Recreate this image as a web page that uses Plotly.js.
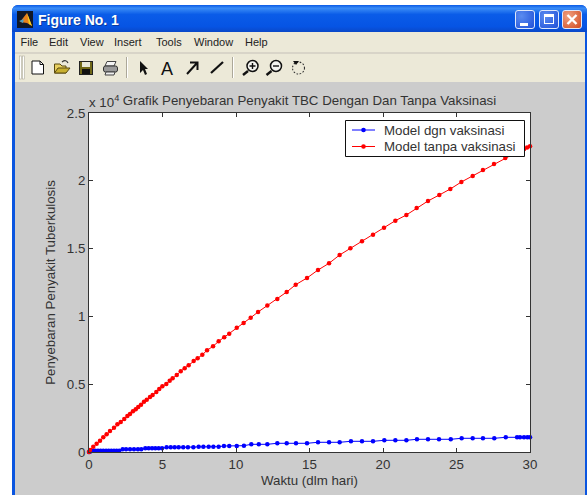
<!DOCTYPE html>
<html>
<head>
<meta charset="utf-8">
<script src="https://cdn.plot.ly/plotly-3.0.1.min.js"></script>
<style>
html,body{margin:0;padding:0;background:#fff;overflow:hidden}
#win{position:absolute;left:12px;top:5px;width:575px;height:490px;background:#0a55e0;border-radius:6px 6px 0 0;overflow:hidden}
#bar{position:absolute;left:0;top:0;width:575px;height:27px;background:linear-gradient(#0a5ae6 0%,#3a8cf6 12%,#0a5ce8 35%,#0654e4 80%,#0a48c8 100%)}
.abs{position:absolute}
.t{position:absolute;white-space:nowrap;font-family:"Liberation Sans",Arial,sans-serif}
.m{font-size:11px;color:#222;top:36px}
.b{position:absolute;top:10px;width:20px;height:19px;border:1px solid #dfe8fb;border-radius:3px;box-sizing:border-box;background:radial-gradient(circle at 30% 30%,#5b8cf0,#2050d8)}
#chart{position:absolute;left:0;top:0;width:587px;height:495px}
</style>
</head>
<body>
<div id="win"><div id="bar"></div></div>
<div class="abs" style="left:15px;top:32px;width:570px;height:20px;background:#ece9d8"></div>
<div class="abs" style="left:15px;top:52px;width:570px;height:2px;background:#d8d4c8"></div>
<div class="abs" style="left:15px;top:54px;width:570px;height:28px;background:#ece9d8"></div>
<div class="abs" style="left:15px;top:82px;width:570px;height:413px;background:#cccccc"></div>

<div class="t" style="left:38px;top:12px;font-size:14px;font-weight:bold;color:#fff;text-shadow:1px 1px 0 #0a3aa0">Figure No. 1</div>
<div class="t m" style="left:20.5px">File</div>
<div class="t m" style="left:49px">Edit</div>
<div class="t m" style="left:80px">View</div>
<div class="t m" style="left:114px">Insert</div>
<div class="t m" style="left:156px">Tools</div>
<div class="t m" style="left:194px">Window</div>
<div class="t m" style="left:245px">Help</div>

<div class="b" style="left:515px"><div class="abs" style="left:4px;top:12px;width:8px;height:3px;background:#fff"></div></div>
<div class="b" style="left:539px"><div class="abs" style="left:4px;top:3px;width:10px;height:10px;border:1px solid #fff;border-top-width:3px;box-sizing:border-box"></div></div>
<div class="b" style="left:562px;background:radial-gradient(circle at 30% 30%,#f0a080,#d04a20)"><svg width="18" height="17" style="position:absolute;left:0;top:0"><path d="M4.5 4 L13.5 13 M13.5 4 L4.5 13" stroke="#fff" stroke-width="2.4"/></svg></div>

<svg class="abs" style="left:0;top:0" width="587" height="90">
  <rect x="17" y="11" width="16" height="17" fill="#101828"/>
  <path d="M20 22 L27 13 L32 26 L27 23 Z" fill="#e8801a"/><path d="M27 13 L32 26 L29 24 Z" fill="#f4d020"/><path d="M19 21 L24 19 L23 23 Z" fill="#50a0c0"/>
  <rect x="19.5" y="56" width="2" height="23" fill="#fff" stroke="#b0ac9c" stroke-width=".6"/><rect x="22.5" y="56" width="2" height="23" fill="#fff" stroke="#b0ac9c" stroke-width=".6"/>
  <path d="M32 61 H40 L43.5 64.5 V74 H32 Z" fill="#fff" stroke="#111" stroke-width="1"/><path d="M40 61 V64.5 H43.5" fill="none" stroke="#111"/>
  <path d="M54.5 73 V64 H60 L62 66 H66 V73 Z" fill="#e8d060" stroke="#5a4a10"/><path d="M54.5 73 L58 68 H70 L66 73 Z" fill="#c8b030" stroke="#5a4a10"/><path d="M62 62 Q66 59 68 63" fill="none" stroke="#333" stroke-width="1.2"/>
  <rect x="79.5" y="61.5" width="13" height="13" fill="#706818" stroke="#222"/><rect x="82" y="62" width="8" height="5" fill="#e8e8d8"/><rect x="82" y="69" width="8" height="5" fill="#111"/>
  <path d="M107 61.5 H116 L114 66 H105 Z" fill="#f4f4f4" stroke="#444"/><rect x="103.5" y="66" width="14" height="6" rx="2" fill="#9a9a9a" stroke="#333"/><path d="M106 72 H115 L114 75 H105 Z" fill="#eee" stroke="#444"/>
  <rect x="126" y="57" width="1" height="21" fill="#aca899"/><rect x="127" y="57" width="1" height="21" fill="#fff"/>
  <path d="M140 61 L140 73 L143 70 L145 75 L147 74 L145 69 L148 69 Z" fill="#111"/>
  <text x="167" y="74.5" text-anchor="middle" font-family="Liberation Sans, Arial, sans-serif" font-size="18" fill="#111">A</text>
  <path d="M187 74 L197 63 M190 62.5 H197.5 V70" fill="none" stroke="#111" stroke-width="2"/>
  <path d="M211 73 L223 62" stroke="#111" stroke-width="2.2"/>
  <rect x="232" y="57" width="1" height="21" fill="#aca899"/><rect x="233" y="57" width="1" height="21" fill="#fff"/>
  <circle cx="252.5" cy="66" r="5.5" fill="#f4f4f0" stroke="#111" stroke-width="1.5"/><path d="M249.5 66 H255.5 M252.5 63 V69" stroke="#111" stroke-width="1.4"/><path d="M248 71 L243 75" stroke="#111" stroke-width="2.4"/>
  <circle cx="276" cy="66" r="5.5" fill="#f4f4f0" stroke="#111" stroke-width="1.5"/><path d="M273 66 H279" stroke="#111" stroke-width="1.4"/><path d="M271.5 71 L266.5 75" stroke="#111" stroke-width="2.4"/>
  <circle cx="298.5" cy="68" r="6" fill="none" stroke="#333" stroke-width="1.1" stroke-dasharray="1.6 1.6"/><path d="M293 61 L299 61 L296 65 Z" fill="#111"/>
</svg>

<div id="chart"></div>
<script>
var tTanpa = [0,0.07,0.29,0.52,0.75,0.97,1.20,1.43,1.70,1.93,2.16,2.40,2.61,2.79,2.99,3.18,3.35,3.54,3.74,3.93,4.15,4.33,4.58,4.78,4.99,5.26,5.49,5.69,5.97,6.24,6.51,6.78,7.12,7.39,7.71,8.03,8.44,8.82,9.20,9.54,10.05,10.52,11.0,11.5,12.13,12.81,13.45,14.06,14.83,15.58,16.33,17.05,17.78,18.57,19.32,20.07,20.84,21.59,22.29,23.06,23.83,24.58,25.33,26.10,26.80,27.55,28.32,29.08,29.32,29.6,29.8,30];
var yTanpa = [0,148,391,612,833,1084,1305,1549,1792,2043,2213,2434,2655,2803,3002,3149,3319,3488,3710,3857,4056,4204,4425,4646,4845,5015,5258,5435,5679,5952,6173,6394,6711,6910,7176,7500,7795,8164,8459,8725,9167,9514,9905,10325,10804,11284,11800,12338,12833,13423,13917,14529,15023,15539,16026,16542,17059,17479,17995,18511,18954,19396,19913,20355,20798,21240,21683,22125,22236,22346,22457,22545];
var tDgn = [0,0.07,0.25,0.43,0.61,0.79,0.97,1.16,1.34,1.52,1.70,1.88,2.06,2.29,2.52,2.79,3.06,3.33,3.56,3.83,4.06,4.29,4.51,4.74,4.97,5.28,5.56,5.83,6.10,6.41,6.73,7.10,7.46,7.78,8.14,8.46,8.82,9.18,9.54,10.05,10.54,11.04,11.55,12.13,12.81,13.45,14.08,14.83,15.58,16.33,17.05,17.82,18.57,19.32,20.09,20.84,21.59,22.31,23.06,23.81,24.61,25.35,26.10,26.80,27.57,28.35,29.12,29.32,29.59,29.82,30];
var yDgn = [0,25,98,98,98,98,98,98,98,98,98,98,98,197,197,197,197,197,197,270,270,270,270,270,270,344,344,344,344,344,344,344,394,394,394,394,394,443,443,443,465,568,568,568,642,642,642,642,716,716,716,789,789,789,863,863,863,937,937,937,937,1011,1011,1011,1011,1084,1084,1084,1084,1084,1084];
var namaDgn = 'Model dgn vaksinasi';
var namaTanpa = 'Model tanpa vaksinasi';
var warnaDgn = '#0000ff';
var warnaTanpa = '#ff0000';
var xTicks = [0,5,10,15,20,25,30];
var yTicks = [0,5000,10000,15000,20000,25000];
var yTickText = ['0','0.5','1','1.5','2','2.5'];

// page pixels to paper fractions, for the legend box that sits over the plot
function px(v){ return (v-89)/441; }
function py(v){ return 1-(v-113)/339; }

var font = {family:'"Liberation Sans", Arial, sans-serif', size:13.3, color:'#333333'};
var traces = [
  {x:tDgn, y:yDgn, name:namaDgn, mode:'lines+markers', cliponaxis:false,
   line:{color:warnaDgn,width:1}, marker:{color:warnaDgn,size:4.5}},
  {x:tTanpa, y:yTanpa, name:namaTanpa, mode:'lines+markers', cliponaxis:false,
   line:{color:warnaTanpa,width:1}, marker:{color:warnaTanpa,size:4.5}}
];
function legendRow(color, y){
  return [
    {type:'line', layer:'above', xref:'paper', yref:'paper', x0:px(352), x1:px(375), y0:py(y), y1:py(y), line:{color:color,width:1}},
    {type:'circle', layer:'above', xref:'paper', yref:'paper', x0:px(361.2), x1:px(365.8), y0:py(y-2.3), y1:py(y+2.3), fillcolor:color, line:{color:color,width:0}}
  ];
}
var axisBase = {showgrid:false, zeroline:false, showline:true, linecolor:'#333333', linewidth:1,
  mirror:'ticks', ticks:'inside', ticklen:4, tickcolor:'#333333', tickwidth:1, tickfont:font};
var layout = {
  width:587, height:495,
  margin:{l:89, r:57, t:113, b:43, pad:0},
  paper_bgcolor:'rgba(0,0,0,0)', plot_bgcolor:'#ffffff',
  font:font, showlegend:false,
  title:{text:'Grafik Penyebaran Penyakit TBC Dengan Dan Tanpa Vaksinasi', font:font,
    x:309.5/587, xanchor:'center', y:1-100/495, yanchor:'middle'},
  xaxis:Object.assign({}, axisBase, {range:[0,30], tickvals:xTicks, ticktext:xTicks.map(String),
    title:{text:'Waktu (dlm hari)', font:font, standoff:4}}),
  yaxis:Object.assign({}, axisBase, {range:[0,25000], tickvals:yTicks, ticktext:yTickText,
    title:{text:'Penyebaran Penyakit Tuberkulosis', font:font, standoff:8}}),
  shapes:[
    {type:'rect', layer:'above', xref:'paper', yref:'paper', x0:px(345.5), x1:px(524.5), y0:py(120.5), y1:py(156.5), fillcolor:'#ffffff', line:{color:'#111111',width:1}}
  ].concat(legendRow(warnaDgn,130), legendRow(warnaTanpa,146.5)),
  annotations:[
    {text:'x 10<sup>4</sup>', xref:'paper', yref:'paper', x:0, y:1, xanchor:'left', yanchor:'bottom', yshift:1, xshift:-2, showarrow:false, font:font},
    {text:namaDgn, xref:'paper', yref:'paper', x:px(384), y:py(130), xanchor:'left', yanchor:'middle', xshift:-1, showarrow:false, font:font, borderpad:0},
    {text:namaTanpa, xref:'paper', yref:'paper', x:px(384), y:py(146.5), xanchor:'left', yanchor:'middle', xshift:-1, showarrow:false, font:font, borderpad:0}
  ]
};
Plotly.newPlot('chart', traces, layout, {displayModeBar:false, staticPlot:true});
</script>
</body>
</html>
